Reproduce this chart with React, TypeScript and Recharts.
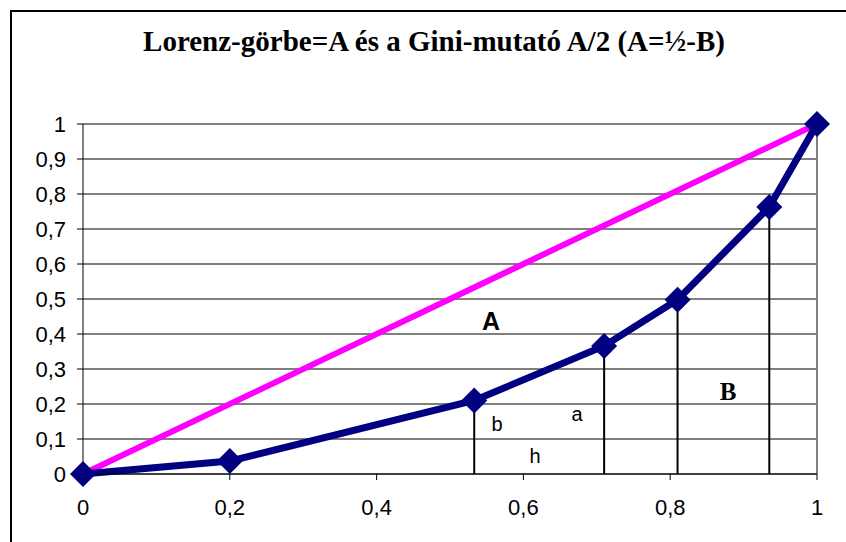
import { CartesianGrid, Label, Line, LineChart, ReferenceDot, ReferenceLine, XAxis, YAxis } from "recharts";

// Lorenz curve points (cumulative population share, cumulative income share)
const lorenzX = [0, 0.2, 0.533, 0.71, 0.81, 0.935, 1]
const lorenzY = [0, 0.037, 0.21, 0.366, 0.498, 0.763, 1]

// line of perfect equality
const equalityX = [0, 1]
const equalityY = [0, 1]

const xTicks = [0, 0.2, 0.4, 0.6, 0.8, 1]
const yTicks = [0, 0.1, 0.2, 0.3, 0.4, 0.5, 0.6, 0.7, 0.8, 0.9, 1]

// drop lines go from these Lorenz points down to the x axis
const dropIdx = [2, 3, 4, 5]

// area / trapezoid annotations: text, x, y
const notes = [
  { text: "A", x: 0.556, y: 0.438, bold: true, serif: false, size: 25 },
  { text: "B", x: 0.879, y: 0.237, bold: true, serif: true, size: 25 },
  { text: "b", x: 0.564, y: 0.143, bold: false, serif: false, size: 20 },
  { text: "a", x: 0.673, y: 0.171, bold: false, serif: false, size: 20 },
  { text: "h", x: 0.616, y: 0.051, bold: false, serif: false, size: 20 },
]

const lorenz = lorenzX.map((x, i) => ({ x, y: lorenzY[i] }))
const equality = equalityX.map((x, i) => ({ x, y: equalityY[i] }))

const comma = (v: number) => String(v).replace(".", ",")

const Diamond = (props: any) => {
  const { cx, cy } = props
  if (cx == null || cy == null) return null
  const r = 13
  return <polygon points={`${cx},${cy - r} ${cx + r},${cy} ${cx},${cy + r} ${cx - r},${cy}`} fill="#000080" />
}

const tickStyle = { fontFamily: "Arial, 'Liberation Sans', sans-serif", fontSize: 22, fill: "#000" }

export default function App() {
  return (
    <div style={{ position: "absolute", left: 0, top: 0, width: 846, height: 542, background: "#fff", overflow: "hidden" }}>
      <div style={{ position: "absolute", left: 10, top: 10, width: 900, height: 600, borderTop: "2px solid #000", borderLeft: "2px solid #000" }} />
      <div style={{ position: "absolute", left: 0, top: 25, width: 868, textAlign: "center", fontFamily: "'Times New Roman', 'Liberation Serif', serif", fontWeight: "bold", fontSize: 29 }}>
        Lorenz-görbe=A és a Gini-mutató A/2 (A=½-B)
      </div>
      <LineChart width={846} height={542} margin={{ top: 124, right: 29, bottom: 0, left: 0 }} style={{ position: "absolute", left: 0, top: 0 }}>
        <CartesianGrid vertical={false} stroke="#000" strokeWidth={1} />
        <XAxis type="number" dataKey="x" domain={[0, 1]} ticks={xTicks} tickFormatter={comma} height={68}
          stroke="#000" tickSize={6} tickMargin={19} tick={tickStyle} allowDuplicatedCategory={false} />
        <YAxis type="number" domain={[0, 1]} ticks={yTicks} tickFormatter={comma} width={83}
          stroke="#000" tickSize={6} tickMargin={11} tick={tickStyle} />
        <ReferenceLine x={1} stroke="#808080" strokeWidth={2} />
        {dropIdx.map(i => (
          <ReferenceLine key={i} segment={[{ x: lorenzX[i], y: 0 }, { x: lorenzX[i], y: lorenzY[i] }]} stroke="#000" strokeWidth={2} />
        ))}
        <Line data={equality} dataKey="y" stroke="#ff00ff" strokeWidth={6} dot={false} isAnimationActive={false} />
        <Line data={lorenz} dataKey="y" stroke="#000080" strokeWidth={7} dot={<Diamond />} activeDot={false} isAnimationActive={false} />
        {notes.map(n => (
          <ReferenceDot key={n.text} x={n.x} y={n.y} r={0} fill="none" stroke="none">
            <Label position="center" value={n.text}
              style={{ fontFamily: n.serif ? "'Times New Roman', 'Liberation Serif', serif" : "Arial, 'Liberation Sans', sans-serif", fontWeight: n.bold ? "bold" : "normal", fontSize: n.size, fill: "#000" }} />
          </ReferenceDot>
        ))}
      </LineChart>
    </div>
  )
}
